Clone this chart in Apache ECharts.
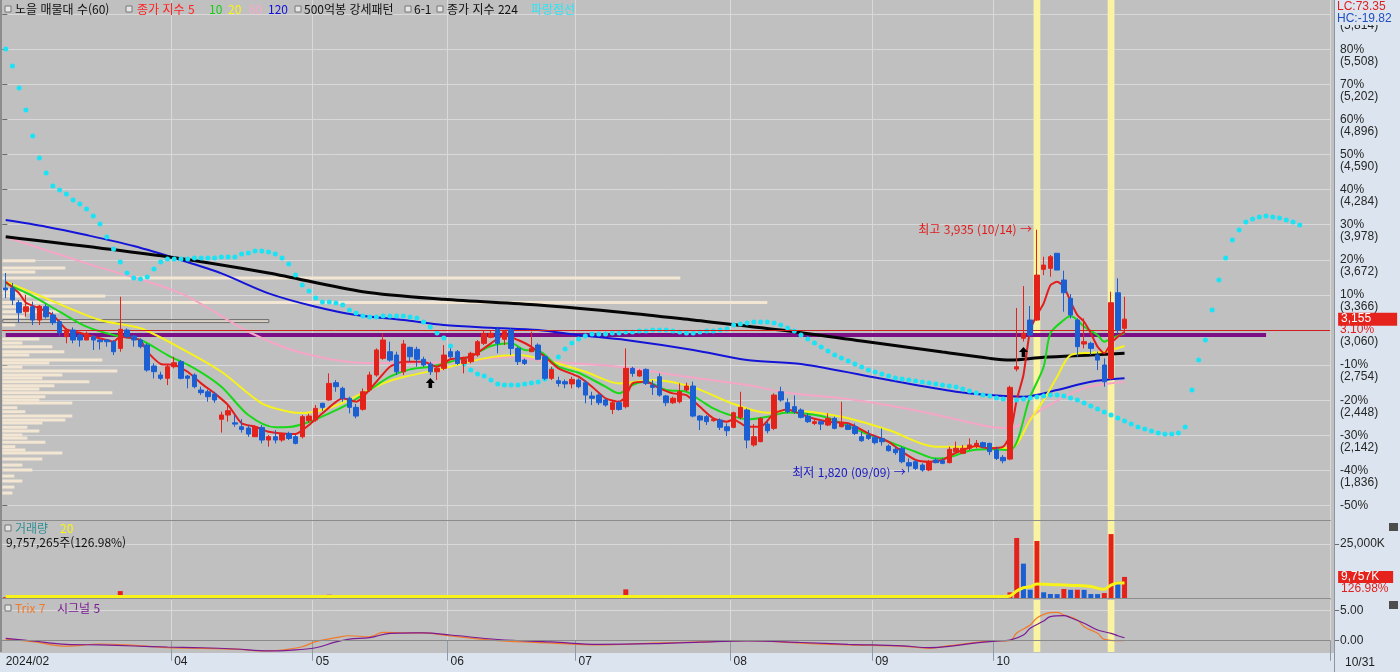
<!DOCTYPE html>
<html lang="ko">
<head>
<meta charset="utf-8">
<title>노을 매물대 차트</title>
<script src="https://cdn.jsdelivr.net/npm/echarts@6.0.0/dist/echarts.min.js"></script>
<style>
html,body{margin:0;padding:0;background:#c0c0c0;overflow:hidden}
#chart{width:1400px;height:672px}
</style>
</head>
<body>
<div id="chart"></div>
<script>
// ================= DATA =================
const tradingDays = [
  ['2024', '02', [23,26,27,28,29]],
  ['2024', '03', [4,5,6,7,8,11,12,13,14,15,18,19,20,21,22,25,26,27,28,29]],
  ['2024', '04', [1,2,3,4,5,8,9,11,12,15,16,17,18,19,22,23,24,25,26,29,30]],
  ['2024', '05', [2,3,7,8,9,10,13,14,16,17,20,21,22,23,24,27,28,29,30,31]],
  ['2024', '06', [3,4,5,7,10,11,12,13,14,17,18,19,20,21,24,25,26,27,28]],
  ['2024', '07', [1,2,3,4,5,8,9,10,11,12,15,16,17,18,19,22,23,24,25,26,29,30,31]],
  ['2024', '08', [1,2,5,6,7,8,9,12,13,14,16,19,20,21,22,23,26,27,28,29,30]],
  ['2024', '09', [2,3,4,5,6,9,10,11,12,13,19,20,23,24,25,26,27,30]],
  ['2024', '10', [2,4,7,8,10,11,14,15,16,17,18,21,22,23,24,25,28,29,30,31]]
];
const futureSlots = 30;

// [open, close, low, high]
const ohlc = [
[3426,3410,3339,3557],[3426,3322,3278,3470],[3298,3211,3124,3321],[3219,3263,3176,3365],[3263,3147,3104,3307],
[3147,3269,3104,3278],[3263,3176,3161,3285],[3191,3124,3104,3220],[3133,3037,3002,3147],[3002,3060,2944,3075],
[3060,2973,2944,3083],[3016,2973,2915,3031],[2973,3031,2973,3046],[3002,2973,2886,3016],[2973,2958,2890,2979],
[2973,2958,2915,2979],[2958,2871,2842,2973],[2900,3066,2871,3350],[3060,3002,2988,3075],[3008,2973,2915,3016],
[2973,2915,2900,2988],[2929,2711,2697,2944],[2746,2697,2638,2770],[2668,2639,2624,2697],[2639,2740,2580,2755],
[2740,2775,2725,2827],[2784,2639,2630,2798],[2659,2639,2552,2668],[2668,2566,2552,2682],[2537,2514,2494,2566],
[2522,2479,2435,2542],[2502,2450,2426,2522],[2282,2319,2166,2348],[2319,2357,2261,2406],[2251,2240,2217,2319],
[2217,2194,2166,2283],[2205,2153,2129,2232],[2130,2217,2130,2232],[2211,2101,2072,2232],[2101,2130,2043,2144],
[2130,2101,2072,2188],[2101,2159,2086,2159],[2159,2115,2101,2173],[2130,2072,2063,2144],[2130,2305,2115,2320],
[2270,2310,2250,2330],[2275,2377,2260,2406],[2421,2386,2356,2426],[2450,2595,2444,2682],[2601,2566,2522,2624],
[2552,2465,2435,2566],[2465,2386,2334,2479],[2386,2310,2290,2415],[2369,2522,2357,2551],[2537,2668,2522,2697],
[2668,2886,2653,2900],[2813,2973,2800,3031],[2871,2798,2784,2958],[2842,2696,2668,2871],[2696,2938,2668,2973],
[2909,2827,2784,2915],[2892,2805,2740,2915],[2805,2755,2740,2827],[2764,2696,2668,2784],[2696,2726,2624,2740],
[2726,2842,2711,2929],[2871,2827,2813,2900],[2871,2769,2755,2886],[2769,2805,2682,2827],[2784,2857,2769,2871],
[2842,2958,2827,2973],[2944,3031,2929,3060],[2996,3031,2988,3060],[3066,2944,2857,3089],[2979,3046,2929,3060],
[3060,2900,2842,3075],[2900,2784,2755,2915],[2798,2769,2755,2813],[2871,2900,2871,3046],[2929,2805,2798,2944],
[2827,2639,2624,2842],[2639,2717,2624,2740],[2618,2595,2566,2653],[2610,2590,2552,2630],[2590,2630,2552,2653],
[2624,2566,2552,2639],[2601,2493,2421,2624],[2485,2465,2406,2522],[2493,2426,2406,2508],[2450,2406,2392,2465],
[2368,2426,2327,2445],[2426,2368,2357,2445],[2392,2726,2377,2900],[2726,2682,2653,2740],[2659,2705,2653,2717],
[2717,2595,2581,2726],[2580,2560,2494,2624],[2653,2493,2479,2682],[2485,2426,2397,2494],[2426,2465,2416,2479],
[2435,2522,2421,2595],[2537,2572,2522,2601],[2572,2310,2299,2610],[2310,2275,2188,2319],[2305,2261,2232,2319],
[2270,2282,2261,2290],[2275,2212,2188,2290],[2217,2182,2135,2246],[2212,2339,2203,2348],[2299,2386,2281,2522],
[2363,2101,2029,2377],[2058,2130,2043,2240],[2087,2290,2082,2299],[2240,2182,2159,2261],[2203,2493,2188,2508],
[2522,2450,2435,2566],[2426,2348,2334,2465],[2392,2348,2330,2490],[2363,2299,2290,2377],[2310,2261,2250,2334],
[2246,2261,2232,2290],[2261,2240,2188,2275],[2232,2290,2222,2334],[2290,2203,2194,2305],[2217,2251,2212,2435],
[2232,2194,2188,2246],[2217,2159,2144,2246],[2130,2095,2086,2173],[2144,2115,2101,2188],[2124,2078,2063,2144],
[2115,2086,2053,2202],[2048,2008,2000,2063],[2020,1991,1972,2043],[2029,1912,1898,2043],[1904,1875,1820,1941],
[1912,1854,1840,1927],[1883,1840,1825,1898],[1840,1912,1830,1927],[1927,1904,1898,1941],[1920,1898,1890,1941],
[1904,2020,1898,2043],[2000,2029,1991,2087],[1985,2029,1980,2058],[2029,2058,2014,2115],[2043,2072,2029,2101],
[2078,2043,2029,2087],[2072,2000,1970,2078],[2014,1941,1927,2043],[1950,1920,1898,1970],[1935,2560,1925,2575],
[2720,2740,2700,3252],[2988,3031,2960,3443],[3147,3016,3002,3269],[3147,3539,3140,3935],[3589,3626,3539,3699],
[3598,3699,3525,3714],[3729,3583,3583,3729],[3496,3385,3220,3577],[3336,3191,3162,3374],[3147,2915,2827,3162],
[2938,2958,2900,3162],[2944,2900,2842,2958],[2842,2798,2711,2871],[2755,2609,2566,2813],[2639,3298,2625,3394],
[3385,3060,3031,3511],[3075,3155,3031,3350]
];

// volume, thousand shares
const volumes = [
400,350,300,280,320,300,260,250,300,280,260,240,230,250,220,230,300,
3200,
600,400,300,450,350,300,380,320,300,280,300,260,280,300,500,400,300,260,250,300,280,300,260,270,250,260,240,600,500,450,
1500,700,500,400,380,1200,900,1300,900,600,500,800,
500,450,400,380,350,500,400,350,320,380,420,600,500,450,480,550,450,350,
900,
400,380,350,300,280,300,280,350,300,280,260,300,280,
4000,
900,500,450,400,380,400,350,320,400,380,500,400,350,300,320,300,450,
600,450,500,350,700,500,
400,350,300,280,300,280,320,300,450,300,280,320,300,280,300,260,280,300,320,350,300,280,500,400,350,320,400,380,350,300,320,350,400,
2600,27800,15900,3840,26400,2640,1850,1800,4170,3800,3850,3780,1850,1820,2300,29600,7500,9757
];

// moving-average lines: [index, price]
const ma5 = [[0,3481],[2,3380],[3,3298],[5,3249],[7,3191],[9,3066],[11,3036],[13,3002],[15,2973],[16,2958],[17,3002],[19,2988],[20,2973],[21,2871],[23,2764],[25,2755],[27,2696],[29,2595],[31,2508],[33,2406],[35,2247],[37,2217],[39,2173],[41,2159],[43,2153],[45,2232],[47,2334],[50,2465],[52,2435],[55,2609],[57,2740],[59,2784],[62,2784],[64,2740],[66,2805],[69,2827],[72,2944],[74,3016],[76,2973],[78,2914],[80,2827],[82,2726],[85,2653],[87,2566],[89,2465],[91,2435],[92,2479],[93,2595],[95,2609],[97,2552],[99,2508],[101,2493],[103,2391],[105,2290],[107,2261],[108,2281],[110,2217],[112,2217],[114,2334],[116,2367],[119,2304],[122,2261],[125,2247],[128,2159],[131,2086],[133,1999],[135,1927],[137,1912],[139,1927],[140,1962],[142,2014],[144,2049],[146,2029],[148,2043],[149,2140],[150,2450],[151,2668],[152,3060],[153,3191],[154,3293],[155,3450],[156,3480],[157,3440],[158,3307],[159,3191],[160,3132],[161,3031],[162,2914],[163,2857],[164,2944],[165,3002],[166,3045]];
const ma10 = [[0,3467],[4,3356],[8,3220],[12,3089],[16,3016],[20,2973],[24,2842],[28,2726],[32,2566],[36,2319],[40,2212],[42,2214],[45,2258],[48,2334],[51,2421],[54,2537],[57,2653],[60,2717],[63,2740],[66,2784],[69,2833],[72,2921],[75,2944],[77,2886],[79,2880],[82,2740],[85,2688],[89,2566],[91,2508],[93,2581],[95,2609],[98,2537],[101,2522],[103,2450],[105,2377],[107,2328],[110,2281],[113,2304],[116,2341],[121,2310],[124,2247],[127,2173],[131,2086],[135,1999],[138,1941],[140,1950],[143,2008],[146,2020],[149,2014],[152,2479],[154,2740],[155,3031],[157,3147],[158,3182],[159,3147],[160,3089],[162,3016],[163,2958],[164,2988],[166,3031]];
const ma20 = [[0,3481],[6,3336],[14,3147],[20,3075],[26,2900],[32,2696],[38,2421],[42,2348],[44,2336],[47,2363],[50,2426],[53,2513],[56,2595],[59,2650],[65,2726],[71,2813],[76,2842],[81,2784],[86,2696],[91,2595],[96,2624],[102,2560],[108,2415],[113,2339],[116,2358],[124,2304],[131,2188],[138,2043],[143,2043],[149,2029],[152,2275],[154,2450],[156,2653],[158,2842],[161,2862],[163,2871],[166,2921]];
const ma60 = [[0,3871],[12,3641],[26,3380],[36,3045],[44,2860],[54,2772],[66,2781],[75,2825],[81,2784],[91,2740],[101,2653],[110,2581],[116,2513],[126,2450],[136,2348],[146,2217],[149,2206],[154,2380],[160,2554],[166,2607]];
const ma120 = [[0,4019],[6,3961],[12,3888],[19,3792],[26,3670],[32,3554],[39,3380],[46,3263],[52,3191],[59,3147],[65,3104],[72,3080],[79,3060],[85,3016],[92,2973],[102,2886],[110,2798],[118,2764],[131,2624],[141,2522],[146,2493],[151,2479],[156,2537],[161,2609],[166,2639]];
const ma224 = [[0,3873],[24,3699],[39,3557],[53,3394],[65,3328],[79,3278],[92,3211],[102,3147],[115,3060],[127,2964],[139,2868],[146,2813],[149,2798],[154,2822],[161,2842],[166,2857]];

// 파랑점선 (one dot per slot, extends past the last candle)
const blueDots = [
5510,5362,5170,4978,4751,4560,4429,4315,4281,4246,4193,4158,4115,4054,3984,3871,3766,3653,3557,3513,
3505,3522,3592,3653,3679,3679,3679,3679,3688,3688,3688,3688,3696,3696,3696,3723,3731,3749,3749,3740,
3723,3688,3635,3539,3452,3400,3339,3304,3304,3295,3278,3234,3208,3182,3173,3173,3182,3182,3182,3182,
3173,3165,3130,3086,3034,2990,2921,2842,2764,2711,2676,2659,2624,2589,2581,2581,2581,2589,2598,2607,
2633,2711,2825,2894,2947,2982,3008,3025,3025,3025,3034,3034,3043,3043,3051,3051,3060,3060,3060,3051,
3043,3034,3034,3043,3051,3051,3060,3069,3104,3112,3121,3130,3130,3130,3121,3104,3077,3051,3016,2982,
2947,2912,2877,2842,2816,2790,2764,2737,2711,2694,2676,2659,2642,2633,2624,2615,2607,2598,2589,2581,
2572,2563,2546,2528,2511,2493,2485,2467,2458,2450,2450,2458,2467,2476,2485,2493,2493,2485,2467,2450,
2424,2397,2371,2345,2319,2293,2267,2241,2214,2197,2180,2162,2153,2153,2162,2214,2537,2798,2973,3234,
3496,3688,3845,3932,4002,4028,4045,4054,4045,4036,4019,4002,3975
];

// 거래량 20 line: [index, thousand shares]
const volMa20 = [[0,700],[20,750],[40,700],[60,750],[80,750],[100,700],[120,650],[148,650],[149,900],[150,3200],[151,4770],[152,5200],[153,6500],[155,6200],[157,6000],[159,5800],[161,5300],[163,4000],[164,6000],[165,7000],[166,7000]];

// Trix 7 / 시그널 5
const trix7 = [[0,0.28],[4,-0.16],[9,-0.9],[14,-0.55],[18,-0.7],[24,-1.15],[29,-1.27],[34,-1.4],[38,-1.7],[41,-1.55],[44,-1.0],[46,-0.16],[49,0.5],[51,0.83],[54,0.66],[56,1.4],[59,1.33],[62,1.3],[66,0.8],[73,0.0],[81,-0.4],[88,-0.7],[96,-0.4],[103,-0.2],[110,0.0],[118,-0.4],[125,-0.7],[133,-0.9],[137,-1.27],[140,-0.83],[144,-0.27],[147,-0.05],[149,0],[150,1.28],[152,2.6],[153,3.8],[155,4.67],[156,4.72],[157,4.28],[159,3.45],[160,2.33],[162,1.23],[163,0.23],[165,0],[166,0]];
const signal5 = [[0,0.4],[4,-0.05],[9,-0.6],[14,-0.7],[19,-0.88],[24,-1.05],[29,-1.17],[34,-1.38],[39,-1.7],[42,-1.6],[46,-1.17],[49,-0.2],[51,0.28],[54,0.5],[57,1.23],[59,1.28],[62,1.3],[66,0.95],[73,0.2],[81,-0.2],[88,-0.6],[96,-0.5],[103,-0.25],[110,-0.05],[118,-0.3],[125,-0.6],[133,-0.85],[137,-1.15],[140,-0.95],[144,-0.35],[148,0],[149,0.1],[151,0.95],[152,2.07],[154,3.28],[155,4.0],[157,4.17],[158,3.83],[160,2.9],[162,1.78],[164,1.23],[165,0.83],[166,0.5]];

// 매물대 (volume at price)
const profilePrice = [3664,3600,3566,3513,3409,3383,3356,3300,3263,3220,3176,3138,3104,2982,2947,2914,2871,2842,2798,2772,2737,2703,2668,2642,2609,2574,2546,2513,2479,2450,2424,2383,2348,2310,2275,2249,2212,2180,2145,2118,2081,2043,2014,1988,1935,1883,1840,1787,1744,1691,1639];
const profileVol = [33,63,33,678,10,22,103,765,40,57,23,266,13,37,20,50,62,27,100,47,20,115,60,40,87,52,37,110,43,37,70,15,23,70,63,40,25,37,20,25,43,13,23,60,40,20,30,12,20,12,10];

const basePrice = 3060;          // 0% line
const lastClose = 3155;
const strongLevel = 3016;        // purple level line
const strongLevelEnd = 187;
const highlightIdx = [153, 164];
const patternArrows = [[63, 2598], [151, 2868]];
const highMark = {idx: 153, price: 3935, text: '최고 3,935 (10/14) →'};
const lowMark = {idx: 134, price: 1820, text: '최저 1,820 (09/09) →'};
const lastVolumeShares = 9757265;
const lastVolumeRatio = 126.98;
const lcValue = 73.35, hcValue = -19.82;

// ================= BUILD =================
const categories = [];
const monthOf = [];
tradingDays.forEach(([y, m, days]) => days.forEach(d => { categories.push(`${y}/${m}/${String(d).padStart(2,'0')}`); monthOf.push(m); }));
const nReal = categories.length;
for (let k = 1; k <= futureSlots; k++) { categories.push('+' + k); monthOf.push(null); }

const monthStart = new Set();
const labelMap = {};
for (let i = 0; i < nReal; i++) {
  if (i === 0) { labelMap[0] = tradingDays[0][0] + '/' + tradingDays[0][1]; continue; }
  if (monthOf[i] !== monthOf[i-1]) {
    if (monthOf[i] !== '03') { monthStart.add(i); labelMap[i] = monthOf[i]; }
  }
}

const UP = '#e3231b', DOWN = '#1b5fd3';
const PRICE_MIN = 1404, PRICE_MAX = 5937;
const priceTicks = [];
for (let k = -5; k <= 9; k++) priceTicks.push(Math.round(basePrice * (1 + k / 10)));
const fmt = v => Math.round(v).toLocaleString('en-US');
const changePct = ((lastClose / basePrice - 1) * 100).toFixed(2);

const NUMFONT = '"Liberation Sans", "Noto Sans CJK KR", sans-serif';
const KRFONT = '"Noto Sans CJK KR", "Liberation Sans", sans-serif';
const HIDDEN_LINE = {color: 'rgba(0,0,0,0)', width: 0, type: 'solid'};

const gridLeft = 2.33, slotW = 6.74;
const gridW = slotW * categories.length;

function bandRender(params, api) {
  const x = api.coord([api.value(0), api.value(1)])[0];
  const w = api.size([1, 0])[0];
  const cs = params.coordSys;
  return {type: 'rect', shape: {x: x - w / 2, y: cs.y, width: w, height: cs.height}, style: {fill: '#f9f3a2'}};
}
let curBin = 0;
profilePrice.forEach((p, i) => { if (Math.abs(p - lastClose) < Math.abs(profilePrice[curBin] - lastClose)) curBin = i; });
function profileRender(params, api) {
  const i = params.dataIndex;
  const a = api.coord([0, api.value(1)]);
  const b = api.coord([api.value(0), api.value(1)]);
  const h = 3;
  if (i === curBin) {
    return {type: 'rect', shape: {x: a[0] + 0.5, y: a[1] - h / 2, width: b[0] - a[0], height: h}, style: {fill: '#d8d0c4', stroke: '#6e6e6e', lineWidth: 1}};
  }
  return {type: 'rect', shape: {x: a[0], y: a[1] - h / 2, width: b[0] - a[0], height: h}, style: {fill: '#f3e6d2'}};
}

const catAxis = (gridIndex, extra) => Object.assign({
  type: 'category', gridIndex, data: categories, boundaryGap: true,
  axisLine: {show: true, lineStyle: {color: '#8c8c8c', width: 1}},
  axisTick: {show: false}, axisLabel: {show: false},
  splitLine: {show: true, interval: (i) => monthStart.has(i), lineStyle: {color: '#d9d9d9', width: 1}}
}, extra || {});

const lineS = (name, data, color, width, z, smooth) => ({
  type: 'line', name, xAxisIndex: 0, yAxisIndex: 0, data, showSymbol: false,
  smooth: smooth == null ? 0.3 : smooth, lineStyle: {color, width}, itemStyle: {color}, z, silent: true
});

const ARROW = 'path://M4.5,0 L9,5 L6.3,5 L6.3,10 L2.7,10 L2.7,5 L0,5 Z';

const option = {
  animation: false,
  backgroundColor: '#c0c0c0',
  textStyle: {fontFamily: KRFONT},
  grid: [
    {left: gridLeft, width: gridW, top: 0, height: 520},
    {left: gridLeft, width: gridW, top: 521, height: 77},
    {left: gridLeft, width: gridW, top: 600, height: 52}
  ],
  xAxis: [
    catAxis(0),
    catAxis(1),
    catAxis(2, {
      axisLabel: {show: true, interval: (i) => labelMap[i] !== undefined, formatter: (v, i) => labelMap[i] || '',
        align: 'left', margin: 4, color: '#1e1e1e', fontSize: 12, fontFamily: NUMFONT},
      axisTick: {show: true, interval: (i) => monthStart.has(i), length: 20, lineStyle: {color: '#8e9aa8'}}
    }),
    {type: 'value', gridIndex: 0, min: 0, max: gridW, show: false}
  ],
  yAxis: [
    {type: 'value', gridIndex: 0, position: 'right', offset: 4, min: PRICE_MIN, max: PRICE_MAX,
      axisLine: {show: false},
      axisTick: {show: true, customValues: priceTicks, length: 5, lineStyle: {color: '#6a6a6a'}},
      splitLine: {show: true, lineStyle: {color: '#d9d9d9'}},
      axisLabel: {customValues: priceTicks, margin: 6, color: '#262626', fontSize: 12, fontFamily: NUMFONT,
        formatter: (v) => { const k = Math.round((v / basePrice - 1) * 10); return k === 0 ? '{r|' + changePct + '%}' : (k * 10) + '%'; },
        rich: {r: {color: '#e02020', fontSize: 12, fontFamily: NUMFONT}}}
    },
    {type: 'value', gridIndex: 0, position: 'right', offset: 4, min: PRICE_MIN, max: PRICE_MAX,
      axisLine: {show: false}, axisTick: {show: false}, splitLine: {show: false},
      axisLabel: {customValues: priceTicks.filter(v => v > 1600), margin: 6, color: '#262626', fontSize: 12, fontFamily: NUMFONT,
        verticalAlign: 'top', lineHeight: 24, formatter: (v) => '(' + fmt(v) + ')'}
    },
    {type: 'value', gridIndex: 1, position: 'right', offset: 4, min: 0, max: 35650,
      axisLine: {show: false},
      axisTick: {show: true, customValues: [25000], length: 5, lineStyle: {color: '#6a6a6a'}},
      splitLine: {show: true, lineStyle: {color: '#d9d9d9'}},
      axisLabel: {customValues: [25000], margin: 6, color: '#262626', fontSize: 12, fontFamily: NUMFONT, formatter: v => fmt(v) + 'K'}
    },
    {type: 'value', gridIndex: 2, position: 'right', offset: 4, min: -1.88, max: 6.78,
      axisLine: {show: false},
      axisTick: {show: true, customValues: [0, 5], length: 5, lineStyle: {color: '#6a6a6a'}},
      splitLine: {show: true, lineStyle: {color: '#d9d9d9'}},
      axisLabel: {customValues: [0, 5], margin: 6, color: '#262626', fontSize: 12, fontFamily: NUMFONT, formatter: v => v.toFixed(2)}
    }
  ],
  series: [
    {type: 'custom', xAxisIndex: 0, yAxisIndex: 0, data: highlightIdx.map(i => [i, PRICE_MIN]), renderItem: bandRender, z: 1, silent: true, encode: {x: 0, y: 1}},
    {type: 'custom', xAxisIndex: 1, yAxisIndex: 2, data: highlightIdx.map(i => [i, 0]), renderItem: bandRender, z: 1, silent: true, encode: {x: 0, y: 1}},
    {type: 'custom', xAxisIndex: 2, yAxisIndex: 3, data: highlightIdx.map(i => [i, 0]), renderItem: bandRender, z: 1, silent: true, encode: {x: 0, y: 1}},
    {type: 'custom', xAxisIndex: 3, yAxisIndex: 0, data: profileVol.map((v, i) => [v, profilePrice[i]]), renderItem: profileRender, z: 1.5, silent: true, encode: {x: 0, y: 1}},
    {type: 'line', xAxisIndex: 0, yAxisIndex: 0, data: [[0, strongLevel], [strongLevelEnd, strongLevel]], showSymbol: false,
      lineStyle: {color: '#7d0f86', width: 4}, z: 2, silent: true},
    lineS('MA60', ma60, '#f5a6c6', 2, 3),
    lineS('MA120', ma120, '#1414d8', 2, 3),
    lineS('MA224', ma224, '#050505', 3, 3),
    lineS('MA20', ma20, '#f6f21c', 2, 3.2),
    lineS('MA10', ma10, '#18d818', 2, 3.3),
    lineS('MA5', ma5, '#e41c1c', 2, 3.4, 0.2),
    {type: 'line', name: '파랑점선', xAxisIndex: 0, yAxisIndex: 0, data: blueDots, showSymbol: true, showAllSymbol: true,
      symbol: 'circle', symbolSize: 5, itemStyle: {color: '#19e3f5'}, lineStyle: {width: 0, opacity: 0}, z: 4, silent: true},
    {type: 'candlestick', name: '주가', xAxisIndex: 0, yAxisIndex: 0, data: ohlc, barWidth: 5, z: 5, silent: true, clip: false,
      itemStyle: {color: UP, color0: DOWN, borderColor: UP, borderColor0: DOWN, borderWidth: 1},
      markLine: {symbol: 'none', silent: true, animation: false, data: [
        {yAxis: basePrice, lineStyle: {color: '#d21d1d', width: 1, type: 'solid'}, label: {show: false}},
        {yAxis: lastClose, lineStyle: HIDDEN_LINE, label: {show: true, position: 'end', distance: 8, formatter: fmt(lastClose),
          backgroundColor: '#e5231c', color: '#ffffff', padding: [1, 26, 0, 3], fontSize: 12, fontFamily: NUMFONT}}
      ]},
      markPoint: {silent: true, animation: false, data: [
        ...patternArrows.map(([i, p]) => ({coord: [i, p], symbol: ARROW, symbolSize: [9, 10], itemStyle: {color: '#000'}, label: {show: false}})),
        {coord: [highMark.idx, highMark.price], symbol: 'circle', symbolSize: 0,
          label: {show: true, position: 'left', distance: 5, formatter: highMark.text, color: '#e01a1a', fontSize: 12, fontFamily: KRFONT}},
        {coord: [lowMark.idx, lowMark.price], symbol: 'circle', symbolSize: 0,
          label: {show: true, position: 'left', distance: 3, formatter: lowMark.text, color: '#1717c6', fontSize: 12, fontFamily: KRFONT}}
      ]}
    },
    {type: 'bar', name: '거래량', xAxisIndex: 1, yAxisIndex: 2, barWidth: 5, z: 3, silent: true, clip: false,
      data: volumes.map((v, i) => ({value: v, itemStyle: {color: (i > 0 && v < volumes[i - 1]) ? DOWN : UP}})),
      markLine: {symbol: 'none', silent: true, animation: false, data: [
        {yAxis: volumes[volumes.length - 1], lineStyle: HIDDEN_LINE, label: {show: true, position: 'end', distance: 8,
          formatter: '{s| }\n{a|' + fmt(volumes[volumes.length - 1]) + 'K}\n{b|' + lastVolumeRatio.toFixed(2) + '%}',
          rich: {s: {lineHeight: 12, fontSize: 12},
                 a: {backgroundColor: '#e5231c', color: '#fff', padding: [0, 14, 0, 3], lineHeight: 12, fontSize: 12, fontFamily: NUMFONT},
                 b: {color: '#e02020', lineHeight: 12, fontSize: 12, fontFamily: NUMFONT, padding: [0, 0, 0, 3]}}}}
      ]}
    },
    {type: 'line', name: '거래량 20', xAxisIndex: 1, yAxisIndex: 2, data: volMa20, showSymbol: false, smooth: 0.3,
      lineStyle: {color: '#f7f31a', width: 3}, z: 4, silent: true},
    {type: 'line', name: 'Trix 7', xAxisIndex: 2, yAxisIndex: 3, data: trix7, showSymbol: false, smooth: 0.4,
      lineStyle: {color: '#f07a2a', width: 1.2}, z: 4, silent: true,
      markLine: {symbol: 'none', silent: true, animation: false, label: {show: false}, data: [{yAxis: 0, lineStyle: {color: '#8a8a8a', width: 1, type: 'solid'}}]}},
    {type: 'line', name: '시그널 5', xAxisIndex: 2, yAxisIndex: 3, data: signal5, showSymbol: false, smooth: 0.4,
      lineStyle: {color: '#7a1a94', width: 1.2}, z: 4, silent: true}
  ],
  graphic: []
};

// ---------- decorations (text & panels) ----------
const G = option.graphic;
const box = (x, y) => G.push({type: 'rect', shape: {x: x, y: y, width: 6, height: 6}, style: {fill: '#e6e6e6', stroke: '#777', lineWidth: 1}, z: 100});
const txt = (x, y, t, color, font) => G.push({type: 'text', x: x, y: y, style: {text: t, fill: color, font: font || ('12px ' + KRFONT), textVerticalAlign: 'middle'}, z: 101});

G.push({type: 'rect', shape: {x: 1334, y: 0, width: 66, height: 672}, style: {fill: '#dce5ef'}, z: -10, silent: true});
G.push({type: 'rect', shape: {x: 0, y: 653, width: 1400, height: 19}, style: {fill: '#dce5ef'}, z: -10, silent: true});
G.push({type: 'line', shape: {x1: 1334.5, y1: 0, x2: 1334.5, y2: 672}, style: {stroke: '#8d96a0', lineWidth: 1}, z: 90});
G.push({type: 'line', shape: {x1: 1, y1: 0, x2: 1, y2: 652}, style: {stroke: '#8c8c8c', lineWidth: 2}, z: 90});
G.push({type: 'rect', shape: {x: 1335, y: 0, width: 65, height: 25}, style: {fill: '#dce5ef'}, z: 99});
txt(1337, 7, 'LC:' + lcValue.toFixed(2), '#e02020', '12px ' + NUMFONT);
txt(1337, 19, 'HC:' + hcValue.toFixed(2), '#1f4fc0', '12px ' + NUMFONT);
txt(1345, 663, '10/31', '#1e1e1e', '12px ' + NUMFONT);
G.push({type: 'rect', shape: {x: 1389, y: 523, width: 9, height: 8}, style: {fill: '#4d4d4d'}, z: 100});
G.push({type: 'rect', shape: {x: 1389, y: 601, width: 9, height: 8}, style: {fill: '#4d4d4d'}, z: 100});

box(5, 6); txt(15, 9, '노을 매물대 수(60)', '#111');
box(126, 6); txt(137, 9, '종가 지수 5', '#ff1f1f');
txt(209, 9, '10', '#10d010'); txt(228, 9, '20', '#f8f414'); txt(249, 9, '60', '#f7a9c8'); txt(268, 9, '120', '#1010d8');
box(295, 6); txt(304, 9, '500억봉 강세패턴', '#111');
box(405, 6); txt(414, 9, '6-1', '#111');
box(437, 6); txt(447, 9, '종가 지수 224', '#111');
txt(531, 9, '파랑점선', '#28e4f6');

box(5, 525); txt(15, 528, '거래량', '#2f8f93'); txt(60, 528, '20', '#f8f414');
txt(6, 542, lastVolumeShares.toLocaleString('en-US') + '주(' + lastVolumeRatio.toFixed(2) + '%)', '#111');
box(5, 605); txt(15, 608, 'Trix 7', '#f07a2a'); txt(57, 608, '시그널 5', '#7a1a94');

const chart = echarts.init(document.getElementById('chart'), null, {renderer: 'canvas'});
chart.setOption(option);
</script>
</body>
</html>
